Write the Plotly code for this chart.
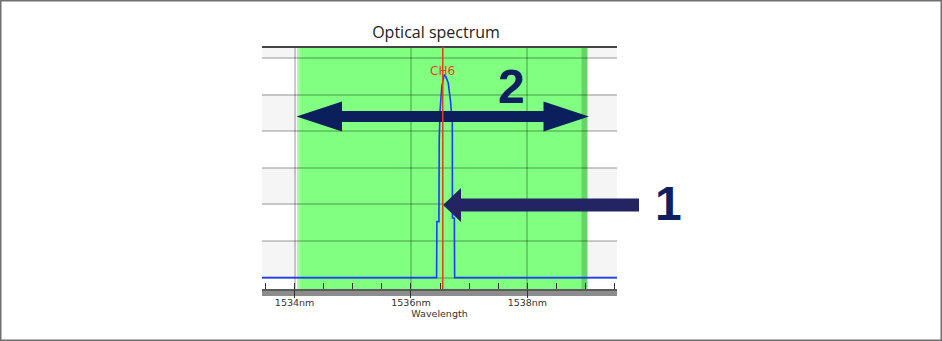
"""Optical spectrum of channel CH6 with passband and annotation arrows."""
import plotly.graph_objects as go

# spectrum trace (wavelength nm, power dBm)
wavelength = [1533.44, 1536.44, 1536.445, 1536.48, 1536.485, 1536.50, 1536.53,
              1536.57, 1536.60, 1536.64, 1536.68, 1536.71, 1536.712, 1536.745,
              1536.75, 1539.56]
power = [-60.0, -60.0, -44.7, -44.7, -22.4, -14.2, -7.8,
         -4.6, -5.1, -6.8, -11.9, -17.8, -43.7, -43.7,
         -60.0, -60.0]

channel_name = "CH6"
channel_wl = 1536.546
band_lo, band_hi = 1534.05, 1539.03

x_range = [1533.44, 1539.54]
y_range = [-63.1, 3.0]
stripe_bands = [(-60, -50), (-40, -30), (-20, -10), (0, 3.0)]

# plot area in pixels
L, R, T, B = 262, 617, 47, 289
W, H = 942, 341


def px(x):
    return (x - L) / (R - L)


def py(y):
    return (B - y) / (B - T)


def path(points):
    return "M " + " L ".join(f"{px(x):.5f},{py(y):.5f}" for x, y in points) + " Z"


def double_arrow(x0, x1, yc, hl, hh, sh):
    return path([(x0, yc), (x0 + hl, yc - hh), (x0 + hl, yc - sh), (x1 - hl, yc - sh),
                 (x1 - hl, yc - hh), (x1, yc), (x1 - hl, yc + hh), (x1 - hl, yc + sh),
                 (x0 + hl, yc + sh), (x0 + hl, yc + hh)])


def left_arrow(tip, tail, yc, hl, hh, sh):
    return path([(tip, yc), (tip + hl, yc - hh), (tip + hl, yc - sh), (tail, yc - sh),
                 (tail, yc + sh), (tip + hl, yc + sh), (tip + hl, yc + hh)])


fig = go.Figure()
fig.add_trace(go.Scatter(x=wavelength, y=power, mode="lines",
                         line=dict(color="#1f3cff", width=1.6), hoverinfo="skip"))

shapes = []
for y0, y1 in stripe_bands:
    shapes.append(dict(type="rect", xref="paper", yref="y", x0=0, x1=1, y0=y0, y1=y1,
                       fillcolor="#f5f5f5", line_width=0, layer="below"))
# passband
shapes.append(dict(type="rect", xref="x", yref="paper", x0=band_lo, x1=band_hi, y0=0, y1=1,
                   fillcolor="#80ff80", line_width=0, layer="below"))
shapes.append(dict(type="rect", xref="x", yref="paper", x0=band_lo, x1=band_lo + 0.05,
                   y0=0, y1=1, fillcolor="#a6f7a6", line_width=0, layer="below"))
shapes.append(dict(type="rect", xref="x", yref="paper", x0=band_hi - 0.1, x1=band_hi,
                   y0=0, y1=1, fillcolor="#66d466", line_width=0, layer="below"))
# frame: top line, bottom bar, outer border
shapes.append(dict(type="line", xref="paper", yref="paper", x0=0, x1=1, y0=1, y1=1,
                   line=dict(color="#444444", width=2)))
shapes.append(dict(type="rect", xref="paper", yref="paper", x0=0, x1=1,
                   y0=py(296), y1=py(289), fillcolor="#8c8c8c", line_width=0, layer="below"))
shapes.append(dict(type="line", xref="paper", yref="paper", x0=0, x1=1,
                   y0=py(290), y1=py(290), line=dict(color="#4a4a4a", width=1.5), layer="below"))
shapes.append(dict(type="rect", xref="paper", yref="paper", x0=px(0.75), x1=px(W - 0.75),
                   y0=py(H - 0.75), y1=py(0.75), line=dict(color="#707070", width=1.5)))
# callout arrows
shapes.append(dict(type="path", xref="paper", yref="paper",
                   path=double_arrow(296.5, 589, 116.5, 45.5, 15, 5.5),
                   fillcolor="#0a1f5c", line_width=0))
shapes.append(dict(type="path", xref="paper", yref="paper",
                   path=left_arrow(443, 639, 205, 18, 17, 6.5),
                   fillcolor="#232462", line_width=0))

fig.update_layout(shapes=shapes)
fig.add_vline(x=channel_wl, line=dict(color="#e2401a", width=1.5))

annotations = [
    dict(text=channel_name, x=channel_wl, xref="x", y=py(71), yref="paper",
         xanchor="center", yanchor="middle", showarrow=False,
         font=dict(family="DejaVu Sans", size=12, color="#e8441c")),
    dict(text="<b>2</b>", x=px(511), y=py(86), xref="paper", yref="paper",
         xanchor="center", yanchor="middle", showarrow=False,
         font=dict(family="Liberation Sans", size=48, color="#0f2060")),
    dict(text="<b>1</b>", x=px(668), y=py(203), xref="paper", yref="paper",
         xanchor="center", yanchor="middle", showarrow=False,
         font=dict(family="Liberation Sans", size=48, color="#0f2060")),
]

fig.update_layout(
    width=W, height=H,
    margin=dict(l=L, r=W - R, t=T, b=H - B),
    paper_bgcolor="white",
    plot_bgcolor="white",
    showlegend=False,
    annotations=annotations,
    title=dict(text="Optical spectrum", x=436 / W, xref="container", xanchor="center",
               y=1 - 32 / H, yref="container", yanchor="middle",
               font=dict(family="Open Sans", size=16, color="#222222")),
    xaxis=dict(range=x_range, dtick=2, tick0=1534, ticksuffix="nm",
               showgrid=True, gridcolor="rgba(0,0,0,0.2)", gridwidth=1.5, zeroline=False,
               ticks="outside", ticklen=8, tickcolor="#333333", tickwidth=1.2,
               ticklabelstandoff=-3,
               minor=dict(dtick=0.5, tick0=1534, ticks="inside", ticklen=6,
                          tickcolor="#333333", tickwidth=1.2, showgrid=False),
               tickfont=dict(family="DejaVu Sans", size=9.5, color="#333333"),
               title=dict(text="Wavelength", standoff=0,
                          font=dict(family="DejaVu Sans", size=9.5, color="#333333"))),
    yaxis=dict(range=y_range, dtick=10, tick0=0, showticklabels=False, ticks="",
               showgrid=True, gridcolor="rgba(0,0,0,0.2)", gridwidth=1.5, zeroline=False),
)

# the page's default body margin would shift the figure by 8px
fig.write_html("out.html", config={"displayModeBar": False},
               post_script="document.body.style.margin='0';")
